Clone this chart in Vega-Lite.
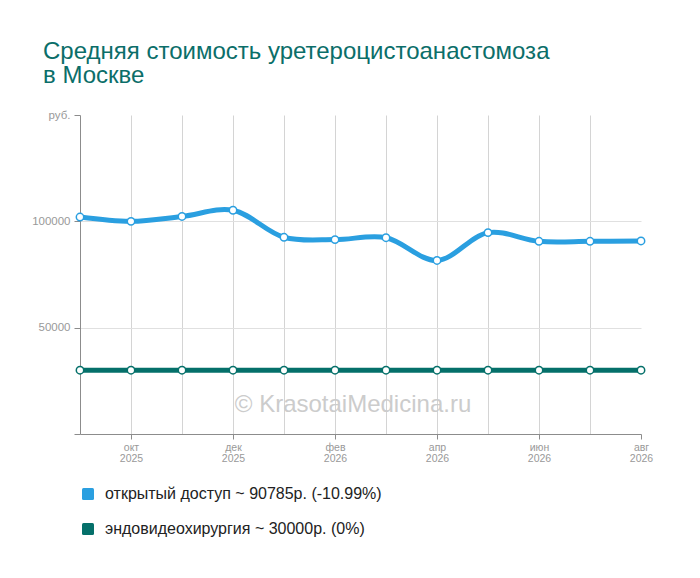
{
  "$schema": "https://vega.github.io/schema/vega-lite/v6.json",
  "autosize": "none",
  "width": 561,
  "height": 319,
  "padding": {"left": 80, "top": 115, "right": 59, "bottom": 144},
  "background": "white",
  "config": {
    "font": "Liberation Sans",
    "view": {"stroke": null},
    "axis": {"labelFont": "Liberation Sans", "labelColor": "#999999", "labelFontSize": 11.5, "domainColor": "#8c8c8c", "tickColor": "#8c8c8c", "tickSize": 6}
  },
  "title": {
    "text": ["Средняя стоимость уретероцистоанастомоза", "в Москве"],
    "anchor": "start",
    "frame": "group",
    "dx": -37,
    "offset": 21,
    "fontSize": 24,
    "lineHeight": 24,
    "fontWeight": "normal",
    "font": "Liberation Sans",
    "color": "#0b6e69"
  },
  "datasets": {
    "prices": [
      {"month": "сен 2025", "series": "открытый доступ ~ 90785р. (-10.99%)", "price": 102000},
      {"month": "окт 2025", "series": "открытый доступ ~ 90785р. (-10.99%)", "price": 100000},
      {"month": "ноя 2025", "series": "открытый доступ ~ 90785р. (-10.99%)", "price": 102300},
      {"month": "дек 2025", "series": "открытый доступ ~ 90785р. (-10.99%)", "price": 105200},
      {"month": "янв 2026", "series": "открытый доступ ~ 90785р. (-10.99%)", "price": 92500},
      {"month": "фев 2026", "series": "открытый доступ ~ 90785р. (-10.99%)", "price": 91400},
      {"month": "мар 2026", "series": "открытый доступ ~ 90785р. (-10.99%)", "price": 92300},
      {"month": "апр 2026", "series": "открытый доступ ~ 90785р. (-10.99%)", "price": 81600},
      {"month": "май 2026", "series": "открытый доступ ~ 90785р. (-10.99%)", "price": 94700},
      {"month": "июн 2026", "series": "открытый доступ ~ 90785р. (-10.99%)", "price": 90600},
      {"month": "июл 2026", "series": "открытый доступ ~ 90785р. (-10.99%)", "price": 90600},
      {"month": "авг 2026", "series": "открытый доступ ~ 90785р. (-10.99%)", "price": 90785},
      {"month": "сен 2025", "series": "эндовидеохирургия ~ 30000р. (0%)", "price": 30000},
      {"month": "окт 2025", "series": "эндовидеохирургия ~ 30000р. (0%)", "price": 30000},
      {"month": "ноя 2025", "series": "эндовидеохирургия ~ 30000р. (0%)", "price": 30000},
      {"month": "дек 2025", "series": "эндовидеохирургия ~ 30000р. (0%)", "price": 30000},
      {"month": "янв 2026", "series": "эндовидеохирургия ~ 30000р. (0%)", "price": 30000},
      {"month": "фев 2026", "series": "эндовидеохирургия ~ 30000р. (0%)", "price": 30000},
      {"month": "мар 2026", "series": "эндовидеохирургия ~ 30000р. (0%)", "price": 30000},
      {"month": "апр 2026", "series": "эндовидеохирургия ~ 30000р. (0%)", "price": 30000},
      {"month": "май 2026", "series": "эндовидеохирургия ~ 30000р. (0%)", "price": 30000},
      {"month": "июн 2026", "series": "эндовидеохирургия ~ 30000р. (0%)", "price": 30000},
      {"month": "июл 2026", "series": "эндовидеохирургия ~ 30000р. (0%)", "price": 30000},
      {"month": "авг 2026", "series": "эндовидеохирургия ~ 30000р. (0%)", "price": 30000}
    ],
    "watermark": [
      {"note": "© KrasotaiMedicina.ru", "month": "фев 2026", "price": 13700}
    ]
  },
  "layer": [
    {
      "data": {"name": "prices"},
      "mark": {"type": "line", "interpolate": "catmull-rom", "strokeWidth": 5},
      "encoding": {
        "x": {
          "field": "month",
          "type": "ordinal",
          "sort": null,
          "scale": {"type": "point", "padding": 0},
          "title": null,
          "axis": {
            "labelAngle": 0,
            "labelExpr": "indexof(['окт 2025','дек 2025','фев 2026','апр 2026','июн 2026','авг 2026'], datum.value) >= 0 ? split(datum.value, ' ') : ''",
            "labelFontSize": 10.5,
            "labelLineHeight": 11,
            "labelPadding": 3,
            "tickSize": 5,
            "grid": true,
            "gridColor": "#d4d4d4",
            "gridOpacity": {"condition": {"test": "datum.value == 'сен 2025' || datum.value == 'авг 2026'", "value": 0}, "value": 1},
            "tickOpacity": {"condition": {"test": "indexof(['окт 2025','дек 2025','фев 2026','апр 2026','июн 2026','авг 2026'], datum.value) < 0", "value": 0}, "value": 1}
          }
        },
        "y": {
          "field": "price",
          "type": "quantitative",
          "title": null,
          "scale": {"domain": [0, 150000], "nice": false},
          "axis": {
            "values": [0, 50000, 100000, 150000],
            "labelExpr": "datum.value == 150000 ? 'руб.' : datum.value == 0 ? '' : '' + datum.value",
            "labelPadding": 4,
            "grid": true,
            "gridColor": "#e0e0e0",
            "gridOpacity": {"condition": {"test": "datum.value == 0 || datum.value == 150000", "value": 0}, "value": 1}
          }
        },
        "color": {
          "field": "series",
          "type": "nominal",
          "scale": {"domain": ["открытый доступ ~ 90785р. (-10.99%)", "эндовидеохирургия ~ 30000р. (0%)"], "range": ["#2a9fe0", "#05706a"]},
          "legend": {
            "title": null,
            "orient": "none",
            "legendX": 0,
            "legendY": 371,
            "padding": 0,
            "direction": "vertical",
            "symbolType": "M-1,-0.75 Q-1,-1 -0.75,-1 L0.75,-1 Q1,-1 1,-0.75 L1,0.75 Q1,1 0.75,1 L-0.75,1 Q-1,1 -1,0.75 Z",
            "symbolSize": 144,
            "symbolStrokeWidth": 0,
            "labelFont": "Liberation Sans",
            "labelFontSize": 16,
            "labelColor": "#222222",
            "labelOffset": 9,
            "labelLimit": 500,
            "rowPadding": 19,
            "encode": {"symbols": {"update": {"fill": {"scale": "color", "field": "value"}, "stroke": {"value": "transparent"}, "opacity": {"value": 1}}}}
          }
        }
      }
    },
    {
      "data": {"name": "prices"},
      "mark": {"type": "point", "filled": true, "fill": "white", "size": 55, "strokeWidth": 1.5, "opacity": 1},
      "encoding": {
        "x": {"field": "month", "type": "ordinal", "sort": null},
        "y": {"field": "price", "type": "quantitative"},
        "stroke": {"field": "series", "type": "nominal", "scale": {"domain": ["открытый доступ ~ 90785р. (-10.99%)", "эндовидеохирургия ~ 30000р. (0%)"], "range": ["#2a9fe0", "#05706a"]}, "legend": null}
      }
    },
    {
      "data": {"name": "watermark"},
      "mark": {"type": "text", "fontSize": 24, "color": "#cccccc", "align": "center", "baseline": "middle", "dx": 18, "font": "Liberation Sans"},
      "encoding": {
        "x": {"field": "month", "type": "ordinal", "sort": null},
        "y": {"field": "price", "type": "quantitative"},
        "text": {"field": "note"}
      }
    }
  ]
}
